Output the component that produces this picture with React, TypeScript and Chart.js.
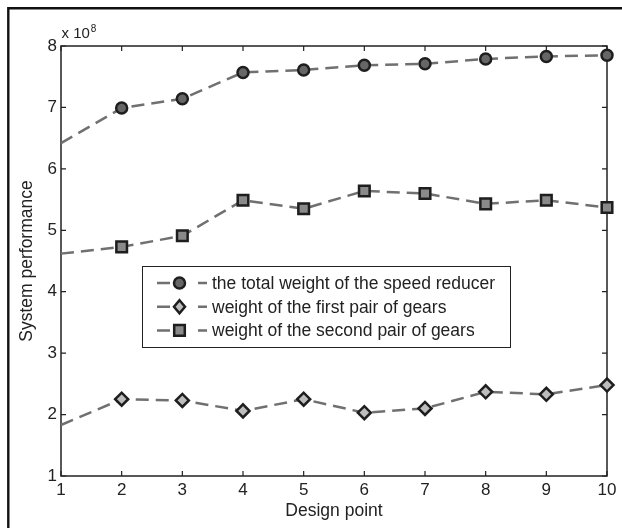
import React, { useEffect, useRef } from "react";
import { Chart, registerables } from "chart.js";

Chart.register(...registerables);

// ---- data ----
const designPoints = [1, 2, 3, 4, 5, 6, 7, 8, 9, 10];
const totalWeight = [6.42, 6.99, 7.14, 7.57, 7.61, 7.685, 7.71, 7.79, 7.83, 7.85];
const firstPairWeight = [1.83, 2.25, 2.23, 2.06, 2.25, 2.03, 2.1, 2.37, 2.33, 2.48];
const secondPairWeight = [4.62, 4.73, 4.91, 5.49, 5.35, 5.64, 5.6, 5.43, 5.49, 5.37];
const seriesLabels = [
  "the total weight of the speed reducer",
  "weight of the first pair of gears",
  "weight of the second pair of gears",
];
const xTickValues = [1, 2, 3, 4, 5, 6, 7, 8, 9, 10];
const yTickValues = [1, 2, 3, 4, 5, 6, 7, 8];
const yExponent = "8";
const xTitle = "Design point";
const yTitle = "System performance";

const FONT = "'Liberation Sans', Arial, Helvetica, sans-serif";
const TEXT = "#222222";
const LINE = "#707070";
const EDGE = "#1e1e1e";

type MarkerKind = "circle" | "diamond" | "square";
const markerKinds: MarkerKind[] = ["circle", "diamond", "square"];
const markerFills = ["#666666", "#bdbdbd", "#8a8a8a"];

function drawMarker(ctx: CanvasRenderingContext2D, kind: MarkerKind, x: number, y: number, fill: string) {
  ctx.save();
  ctx.fillStyle = fill;
  ctx.strokeStyle = EDGE;
  ctx.lineWidth = 2.5;
  ctx.setLineDash([]);
  ctx.beginPath();
  if (kind === "circle") {
    ctx.arc(x, y, 5.5, 0, Math.PI * 2);
  } else if (kind === "square") {
    ctx.rect(x - 5.3, y - 5.3, 10.6, 10.6);
  } else {
    ctx.moveTo(x, y - 6.5);
    ctx.lineTo(x + 5.5, y);
    ctx.lineTo(x, y + 6.5);
    ctx.lineTo(x - 5.5, y);
    ctx.closePath();
  }
  ctx.fill();
  ctx.stroke();
  ctx.restore();
}

const framePlugin = {
  id: "matlabFrame",
  beforeDatasetsDraw(chart: any) {
    const { ctx, chartArea: a, scales } = chart;
    ctx.save();
    // outer figure border (left & top visible)
    ctx.strokeStyle = "#111111";
    ctx.lineWidth = 2.4;
    ctx.beginPath();
    ctx.moveTo(8.3, chart.height + 4);
    ctx.lineTo(8.3, 8.2);
    ctx.lineTo(chart.width + 4, 8.2);
    ctx.stroke();

    // axes box
    ctx.strokeStyle = "#222222";
    ctx.lineWidth = 1.5;
    ctx.strokeRect(a.left, a.top, a.right - a.left, a.bottom - a.top);

    // inward ticks
    const L = 5;
    ctx.lineWidth = 1.2;
    ctx.beginPath();
    for (const v of xTickValues) {
      const px = scales.x.getPixelForValue(v);
      ctx.moveTo(px, a.bottom);
      ctx.lineTo(px, a.bottom - L);
      ctx.moveTo(px, a.top);
      ctx.lineTo(px, a.top + L);
    }
    for (const v of yTickValues) {
      const py = scales.y.getPixelForValue(v);
      ctx.moveTo(a.left, py);
      ctx.lineTo(a.left + L, py);
      ctx.moveTo(a.right, py);
      ctx.lineTo(a.right - L, py);
    }
    ctx.stroke();

    // exponent label
    ctx.fillStyle = TEXT;
    ctx.textBaseline = "alphabetic";
    ctx.textAlign = "left";
    ctx.font = `15px ${FONT}`;
    const base = "x 10";
    const bx = a.left + 0.5;
    const by = a.top - 8;
    ctx.fillText(base, bx, by);
    const w = ctx.measureText(base).width;
    ctx.font = `10px ${FONT}`;
    ctx.fillText(yExponent, bx + w + 1, by - 6);
    ctx.restore();
  },
  afterDatasetsDraw(chart: any) {
    const { ctx, chartArea: a } = chart;
    const left = a.left + 81;
    const top = a.top + 220;
    const width = 368;
    const height = 81;
    ctx.save();
    ctx.fillStyle = "#ffffff";
    ctx.fillRect(left, top, width, height);
    ctx.strokeStyle = "#222222";
    ctx.lineWidth = 1;
    ctx.strokeRect(left + 0.5, top + 0.5, width, height);
    chart.data.datasets.forEach((ds: any, i: number) => {
      const cy = top + 17 + i * 23.7;
      ctx.strokeStyle = LINE;
      ctx.lineWidth = 2.5;
      ctx.setLineDash([13, 28, 9]);
      ctx.beginPath();
      ctx.moveTo(left + 15, cy);
      ctx.lineTo(left + 65, cy);
      ctx.stroke();
      ctx.setLineDash([]);
      drawMarker(ctx, markerKinds[i], left + 37.5, cy, markerFills[i]);
      ctx.fillStyle = TEXT;
      ctx.font = `17.5px ${FONT}`;
      ctx.textBaseline = "middle";
      ctx.textAlign = "left";
      ctx.fillText(ds.label, left + 70, cy + 1);
    });
    ctx.restore();
  },
};

function makeDataset(label: string, values: number[], i: number) {
  const kind = markerKinds[i];
  return {
    label,
    data: designPoints.map((x, k) => ({ x, y: values[k] })),
    borderColor: LINE,
    borderWidth: 2.5,
    borderDash: [13, 7],
    pointStyle: kind === "circle" ? "circle" : kind === "square" ? "rect" : "rectRot",
    pointRadius: designPoints.map((_, k) => (k === 0 ? 0 : kind === "circle" ? 5.5 : kind === "square" ? 7.5 : 6.5)),
    pointBackgroundColor: markerFills[i],
    pointBorderColor: EDGE,
    pointBorderWidth: 2.5,
    fill: false,
    tension: 0,
    clip: false as any,
  };
}

export default function App() {
  const ref = useRef<HTMLCanvasElement | null>(null);
  useEffect(() => {
    if (!ref.current) return;
    const chart = new Chart(ref.current, {
      type: "line",
      data: {
        datasets: [
          makeDataset(seriesLabels[0], totalWeight, 0),
          makeDataset(seriesLabels[1], firstPairWeight, 1),
          makeDataset(seriesLabels[2], secondPairWeight, 2),
        ] as any,
      },
      options: {
        responsive: false,
        animation: false,
        devicePixelRatio: 1,
        layout: { padding: { left: 8, top: 46, right: 15, bottom: 6 } },
        plugins: { legend: { display: false }, tooltip: { enabled: false } },
        scales: {
          x: {
            type: "linear",
            min: 1,
            max: 10,
            afterFit: (s: any) => {
              s.height = 46;
            },
            afterBuildTicks: (s: any) => {
              s.ticks = xTickValues.map((v) => ({ value: v }));
            },
            ticks: { color: TEXT, font: { family: FONT, size: 17 }, padding: 4, maxRotation: 0, autoSkip: false },
            grid: { display: false, drawTicks: false },
            border: { display: false },
            title: { display: true, text: xTitle, color: TEXT, font: { family: FONT, size: 17.5 }, padding: { top: 0, bottom: 0 } },
          },
          y: {
            type: "linear",
            min: 1,
            max: 8,
            afterFit: (s: any) => {
              s.width = 53;
            },
            afterBuildTicks: (s: any) => {
              s.ticks = yTickValues.map((v) => ({ value: v }));
            },
            ticks: { color: TEXT, font: { family: FONT, size: 17 }, padding: 4 },
            grid: { display: false, drawTicks: false },
            border: { display: false },
            title: { display: true, text: yTitle, color: TEXT, font: { family: FONT, size: 17.5 }, padding: { top: 9, bottom: 0 } },
          },
        },
      },
      plugins: [framePlugin],
    });
    return () => chart.destroy();
  }, []);
  return (
    <div style={{ position: "absolute", left: 0, top: 0, width: 622, height: 528, background: "#fff" }}>
      <canvas ref={ref} width={622} height={528} style={{ width: 622, height: 528, display: "block" }} />
    </div>
  );
}
